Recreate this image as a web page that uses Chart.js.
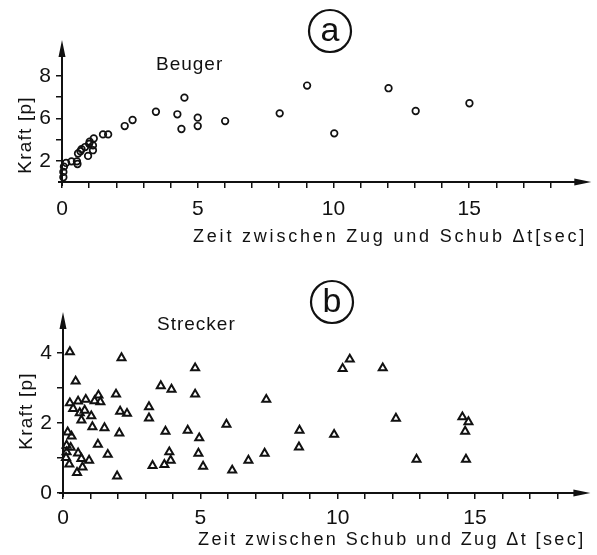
<!DOCTYPE html>
<html>
<head>
<meta charset="utf-8">
<script src="https://cdn.jsdelivr.net/npm/chart.js@4/dist/chart.umd.min.js"></script>
<style>
  html, body { margin: 0; padding: 0; background: #fff; }
  canvas { display: block; }
</style>
</head>
<body>
<canvas id="beuger" width="597" height="260"></canvas>
<canvas id="strecker" width="597" height="295"></canvas>
<script>
// Beuger: Zeit zwischen Zug und Schub (sec) / Kraft
const beugerTime = [0.05, 0.05, 0.07, 0.15, 0.35, 0.57, 0.55, 0.59, 0.68, 0.72, 0.85, 0.96, 1.0, 1.02, 1.14, 1.14, 1.17,
  1.51, 1.70, 2.31, 2.60, 3.46, 4.25, 4.51, 4.40, 5.0, 5.0, 6.01, 8.02, 9.03, 10.03, 12.03, 13.03, 15.01];
const beugerForce = [0.45, 0.95, 1.45, 1.8, 1.95, 1.7, 1.95, 2.69, 2.9, 3.1, 3.3, 2.46, 3.6, 3.8, 3.0, 3.45, 4.11,
  4.49, 4.49, 5.28, 5.85, 6.63, 6.39, 7.96, 5.0, 6.07, 5.28, 5.75, 6.48, 9.10, 4.59, 8.85, 6.70, 7.43];

// Strecker: Zeit zwischen Schub und Zug (sec) / Kraft
const streckerTime = [0.25, 2.13, 4.81, 0.46, 3.56, 3.95, 1.93, 4.81, 7.40, 3.13, 3.13, 2.08, 2.33, 5.95, 3.73, 4.54,
  4.96, 2.05, 3.87, 4.93, 7.34, 6.75, 3.92, 3.69, 3.26, 5.10, 6.16, 1.97, 1.63, 1.27, 1.51, 1.07, 1.03,
  1.29, 1.36, 1.15, 0.83, 0.55, 0.25, 0.37, 0.61, 0.67, 0.79,
  0.17, 0.31, 0.13, 0.28, 0.13, 0.55, 0.67, 0.11, 0.23, 0.51, 0.71, 0.95,
  8.61, 8.59, 9.87, 10.18, 10.44, 11.64, 12.12, 12.87, 14.54, 14.76, 14.64, 14.67];
const streckerForce = [4.03, 3.86, 3.57, 3.19, 3.06, 2.96, 2.82, 2.82, 2.67, 2.46, 2.14, 2.33, 2.27, 1.96, 1.76, 1.79,
  1.57, 1.71, 1.17, 1.13, 1.13, 0.93, 0.93, 0.81, 0.78, 0.76, 0.65, 0.48, 1.10, 1.39, 1.86, 1.89, 2.2,
  2.79, 2.6, 2.63, 2.67, 2.62, 2.57, 2.41, 2.29, 2.08, 2.36,
  1.74, 1.62, 1.36, 1.30, 1.17, 1.14, 0.98, 1.01, 0.82, 0.58, 0.74, 0.93,
  1.79, 1.31, 1.67, 3.55, 3.82, 3.57, 2.13, 0.96, 2.17, 2.03, 1.76, 0.96];

// axis ticks and their printed labels
const timeTicks = [0, 1, 2, 3, 4, 5, 6, 7, 8, 9, 10, 11, 12, 13, 14, 15, 16, 17, 18];
const timeLabels = { 0: '0', 5: '5', 10: '10', 15: '15' };
const beugerTicks = [2, 4, 6, 8, 10];
const beugerTickText = ['2', '', '6', '', '8'];
const streckerTicks = [0, 1, 2, 3, 4];
const streckerTickText = ['0', '', '2', '', '4'];

const INK = '#111';
const LETTER = '"Liberation Sans", Arial, sans-serif';

const toPoints = (xs, ys) => xs.map((x, i) => ({ x, y: ys[i] }));

// hand-drawn style axes with arrowheads plus the panel lettering
const sketchAxes = {
  id: 'sketchAxes',
  beforeDatasetsDraw(chart) {
    const { ctx, chartArea: a } = chart;
    const x0 = chart.scales.x.getPixelForValue(0);
    const y0 = chart.scales.y.getPixelForValue(0);
    ctx.save();
    ctx.strokeStyle = INK;
    ctx.fillStyle = INK;
    ctx.lineWidth = 2;
    ctx.beginPath();
    ctx.moveTo(x0 - 4, y0);
    ctx.lineTo(a.right - 12, y0);
    ctx.moveTo(x0, y0 + 4);
    ctx.lineTo(x0, a.top + 12);
    ctx.stroke();
    ctx.beginPath();
    ctx.moveTo(a.right, y0);
    ctx.lineTo(a.right - 17, y0 - 3.5);
    ctx.lineTo(a.right - 17, y0 + 3.5);
    ctx.closePath();
    ctx.moveTo(x0, a.top);
    ctx.lineTo(x0 - 3.5, a.top + 17);
    ctx.lineTo(x0 + 3.5, a.top + 17);
    ctx.closePath();
    ctx.fill();
    ctx.restore();
  },
  afterDraw(chart, args, o) {
    const ctx = chart.ctx;
    ctx.save();
    ctx.fillStyle = INK;
    ctx.strokeStyle = INK;

    // panel name
    ctx.font = '19px ' + LETTER;
    ctx.letterSpacing = '1px';
    ctx.textBaseline = 'alphabetic';
    ctx.textAlign = 'left';
    ctx.fillText(o.name, o.nameX, o.nameY);

    // x axis title
    ctx.font = '18px ' + LETTER;
    ctx.letterSpacing = o.titleSpacing;
    ctx.fillText(o.xTitle, o.xTitleX, o.xTitleY);

    // y axis title, rotated
    ctx.save();
    ctx.translate(o.yTitleX, o.yTitleY);
    ctx.rotate(-Math.PI / 2);
    ctx.textAlign = 'center';
    ctx.font = '19px ' + LETTER;
    ctx.letterSpacing = '1.2px';
    ctx.fillText(o.yTitle, 0, 0);
    ctx.restore();

    // circled panel letter
    ctx.lineWidth = 2.2;
    ctx.beginPath();
    ctx.arc(o.tagX, o.tagY, 21, 0, Math.PI * 2);
    ctx.stroke();
    ctx.font = '34px ' + LETTER;
    ctx.letterSpacing = '0px';
    ctx.textAlign = 'center';
    ctx.textBaseline = 'middle';
    ctx.fillText(o.tag, o.tagX, o.tagY + 1);
    ctx.restore();
  }
};

function axisFont(size) {
  return { family: LETTER, size };
}

function makePanel(id, points, marker, xMax, yMax, yTicks, yTickText, plotLeft, plotTop, axisY, canvasH, xPad, lettering) {
  return new Chart(document.getElementById(id), {
    type: 'scatter',
    data: {
      datasets: [{
        data: points,
        pointStyle: marker.style,
        pointRadius: marker.radius,
        borderWidth: marker.width,
        borderColor: INK,
        backgroundColor: 'rgba(0,0,0,0)',
        clip: false
      }]
    },
    options: {
      responsive: false,
      animation: false,
      events: [],
      layout: { padding: { left: 0, right: 1, top: plotTop, bottom: 0 } },
      plugins: {
        legend: { display: false },
        tooltip: { enabled: false },
        sketchAxes: lettering
      },
      scales: {
        x: {
          type: 'linear',
          min: 0,
          max: xMax,
          afterBuildTicks: s => { s.ticks = timeTicks.map(v => ({ value: v })); },
          afterFit: s => { s.height = canvasH - axisY; },
          border: { display: false },
          grid: { drawOnChartArea: false, drawTicks: true, tickLength: 6, color: INK, lineWidth: 1.5 },
          ticks: {
            autoSkip: false,
            maxRotation: 0,
            padding: xPad,
            color: INK,
            font: axisFont(21),
            callback: v => timeLabels[v] || ''
          }
        },
        y: {
          type: 'linear',
          min: 0,
          max: yMax,
          afterBuildTicks: s => { s.ticks = yTicks.map(v => ({ value: v })); },
          afterFit: s => { s.width = plotLeft; },
          border: { display: false },
          grid: { drawOnChartArea: false, drawTicks: true, tickLength: 6, color: INK, lineWidth: 1.5 },
          ticks: {
            autoSkip: false,
            padding: 5,
            color: INK,
            font: axisFont(21),
            callback: v => yTickText[yTicks.indexOf(v)] || ''
          }
        }
      }
    },
    plugins: [sketchAxes]
  });
}

makePanel('beuger', toPoints(beugerTime, beugerForce),
  { style: 'circle', radius: 3.3, width: 1.7 },
  19.5, 13.4, beugerTicks, beugerTickText, 62, 40, 182, 260, 9,
  {
    name: 'Beuger', nameX: 156, nameY: 70,
    xTitle: 'Zeit zwischen Zug und Schub \u0394t[sec]', xTitleX: 193, xTitleY: 242, titleSpacing: '2.8px',
    yTitle: 'Kraft [p]', yTitleX: 31, yTitleY: 135,
    tag: 'a', tagX: 330, tagY: 31
  });

makePanel('strecker', toPoints(streckerTime, streckerForce),
  { style: 'triangle', radius: 4.6, width: 2 },
  19.2, 5.17, streckerTicks, streckerTickText, 63, 52, 233, 295, 7,
  {
    name: 'Strecker', nameX: 157, nameY: 70,
    xTitle: 'Zeit zwischen Schub und Zug \u0394t [sec]', xTitleX: 198, xTitleY: 285, titleSpacing: '2.4px',
    yTitle: 'Kraft [p]', yTitleX: 32, yTitleY: 151,
    tag: 'b', tagX: 332, tagY: 42
  });
</script>
</body>
</html>
